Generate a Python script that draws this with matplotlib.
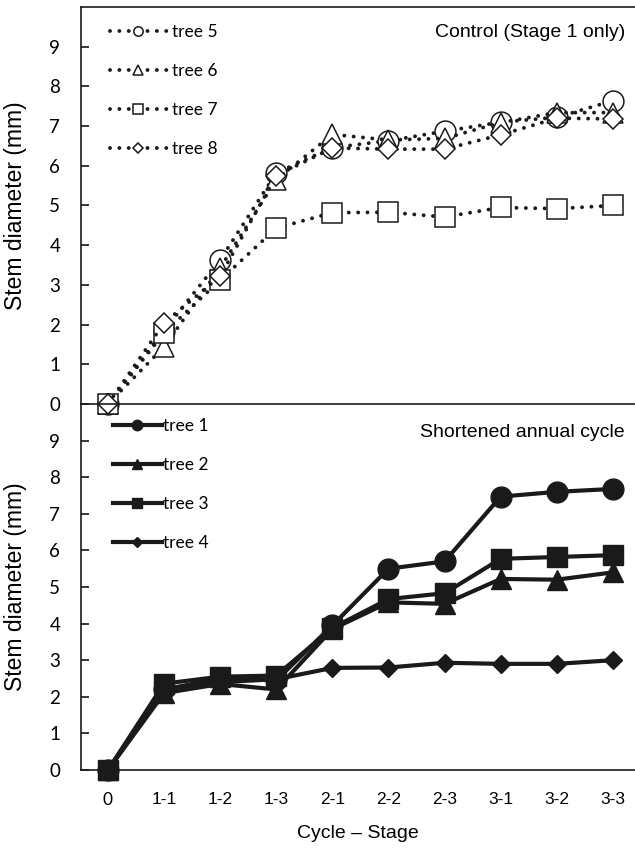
import matplotlib
matplotlib.use('Agg')
import matplotlib.pyplot as plt

stages = ['0', '1-1', '1-2', '1-3', '2-1', '2-2', '2-3', '3-1', '3-2', '3-3']

# control (stage 1 only), open markers
tree5 = [0, 1.85, 3.63, 5.82, 6.46, 6.63, 6.87, 7.10, 7.22, 7.64]
tree6 = [0, 1.44, 3.43, 5.65, 6.79, 6.65, 6.69, 7.09, 7.34, 7.34]
tree7 = [0, 1.79, 3.12, 4.43, 4.82, 4.83, 4.71, 4.95, 4.92, 5.00]
tree8 = [0, 2.04, 3.22, 5.75, 6.45, 6.42, 6.42, 6.78, 7.20, 7.18]

# shortened annual cycle, filled markers
tree1 = [0, 2.20, 2.50, 2.45, 3.95, 5.50, 5.70, 7.47, 7.60, 7.68]
tree2 = [0, 2.10, 2.35, 2.20, 3.85, 4.58, 4.54, 5.22, 5.20, 5.40]
tree3 = [0, 2.36, 2.55, 2.58, 3.88, 4.67, 4.83, 5.77, 5.82, 5.87]
tree4 = [0, 2.20, 2.40, 2.48, 2.79, 2.80, 2.93, 2.90, 2.90, 3.00]

W, H = 635, 851
fig = plt.figure(figsize=(W / 100, H / 100), dpi=100)
ax1 = fig.add_axes([81 / W, 1 - 404 / H, 554 / W, 397 / H])
ax2 = fig.add_axes([81 / W, 1 - 770 / H, 554 / W, 366 / H])
ax2.set_facecolor('none')
ax1.set_zorder(1)
ax1.set_facecolor('none')

x = list(range(len(stages)))
arial = ['Liberation Sans', 'DejaVu Sans']
calib = ['Lato', 'DejaVu Sans']
K = '#1a1a1a'

# ---- top: control ----
dots = dict(color=K, lw=2.8, ls=(0, (0.01, 2.4)), dash_capstyle='round',
            mfc='white', mec=K, mew=1.1, clip_on=False)
ax1.plot(x, tree5, marker='o', ms=15, label='tree 5', **dots)
ax1.plot(x, tree6, marker='^', ms=15, label='tree 6', **dots)
ax1.plot(x, tree7, marker='s', ms=15, label='tree 7', **dots)
ax1.plot(x, tree8, marker='D', ms=10.5, label='tree 8', **dots)

# ---- bottom: shortened cycle ----
solid = dict(color=K, lw=3.0, mfc=K, mec=K, clip_on=False)
ax2.plot(x, tree1, marker='o', ms=15, label='tree 1', **solid)
ax2.plot(x, tree2, marker='^', ms=15, label='tree 2', **solid)
ax2.plot(x, tree3, marker='s', ms=15, label='tree 3', **solid)
ax2.plot(x, tree4, marker='D', ms=9.5, label='tree 4', **solid)

for ax in (ax1, ax2):
    ax.set_xlim(-0.481, 9.394)
    ax.set_ylim(0, 10)
    ax.set_yticks(range(10))
    ax.tick_params(axis='y', direction='in', length=6, width=1.1, pad=15,
                   labelsize=13.5)
    for lab in ax.get_yticklabels():
        lab.set_family(calib)
    ax.spines['right'].set_visible(False)
    for s in ('left', 'top', 'bottom'):
        ax.spines[s].set_linewidth(1.2)
        ax.spines[s].set_color(K)
    ax.set_ylabel('Stem diameter (mm)', family=arial, fontsize=16.5)
    ax.yaxis.set_label_coords(-0.097, 0.5)

ax1.set_xticks([])
ax2.spines['top'].set_visible(False)
ax2.set_xticks(x)
ax2.set_xticklabels(stages, family=arial, fontsize=12.5)
ax2.get_xticklabels()[0].set_family(calib)
ax2.tick_params(axis='x', length=0, pad=16)
ax2.set_xlabel('Cycle – Stage', family=arial, fontsize=14, labelpad=12)

ax1.text(0.982, 0.935, 'Control (Stage 1 only)', transform=ax1.transAxes,
         ha='right', va='center', family=arial, fontsize=14)
ax2.text(0.982, 0.922, 'Shortened annual cycle', transform=ax2.transAxes,
         ha='right', va='center', family=arial, fontsize=14)

ax1.legend(loc='upper left', bbox_to_anchor=(0.052, 0.957), frameon=False,
           borderpad=0, borderaxespad=0, handlelength=3.3, handletextpad=0.3,
           labelspacing=1.32, markerscale=0.45, prop={'family': calib, 'size': 12.5})
ax2.legend(loc='upper left', bbox_to_anchor=(0.058, 0.962), frameon=False,
           borderpad=0, borderaxespad=0, handlelength=2.8, handletextpad=0.05,
           labelspacing=1.32, markerscale=0.5, prop={'family': calib, 'size': 12.5})

fig.savefig('out.png', dpi=100)
